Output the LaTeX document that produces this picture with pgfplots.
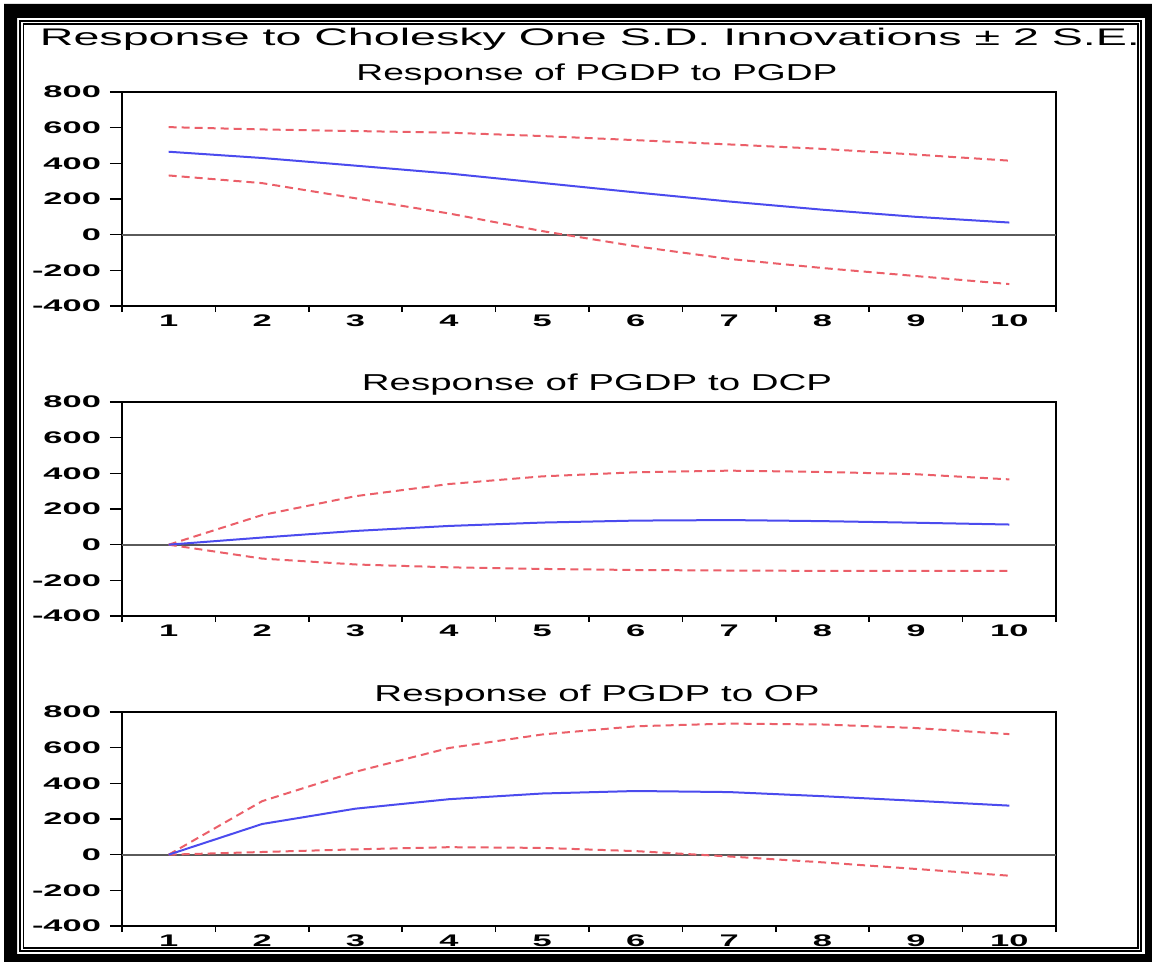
\documentclass[border=0pt]{standalone}
\usepackage{fontspec}
\setmainfont{Liberation Sans}
\newfontfamily\tickfont[FakeStretch=2.05]{Liberation Sans}
\usepackage{graphicx}
\usepackage{pgfplots}
\pgfplotsset{compat=1.18}
\definecolor{irfblue}{RGB}{75,75,238}
\definecolor{irfred}{RGB}{235,95,105}
\definecolor{zeroline}{RGB}{90,90,90}

\pgfplotsset{
  irf/.style={
    width=467pt, height=107pt, scale only axis,
    xmin=0.5, xmax=10.5, ymin=-400, ymax=800,
    xtick={1,...,10}, xticklabels={1,2,3,4,5,6,7,8,9,10},
    ytick={-400,-200,0,200,400,600,800},
    yticklabels={-400,-200,0,200,400,600,800},
    minor xtick={0.5,1.5,...,10.5},
    major x tick style={draw=none},
    tick align=outside, major tick length=6pt, minor tick length=3pt,
    xtick pos=bottom, ytick pos=left,
    axis line style={line width=1.2pt},
    tick style={line width=0.8pt, black},
    ticklabel style={font=\tickfont\bfseries\fontsize{8.4}{10}\selectfont},
    xticklabel style={yshift=5pt},
    yticklabel style={xshift=-1pt},
    clip=false,
  },
  ciband/.style={irfred, line width=1pt, dash pattern=on 4pt off 2.5pt},
  irfline/.style={irfblue, line width=1pt},
  zline/.style={zeroline, line width=1pt},
}
\newcommand{\wtxt}[3]{\resizebox{#1}{\height}{\fontsize{#2}{#2}\selectfont #3}}

\begin{document}
\begin{tikzpicture}
\useasboundingbox (0,0) rectangle (576pt,-481pt);
% outer frame
\fill[black, even odd rule] (2pt,-2pt) rectangle (576pt,-481pt) (8.5pt,-9pt) rectangle (572.5pt,-477pt);
\draw[line width=0.6pt] (10pt,-10.5pt) rectangle (570.5pt,-475.5pt);
\draw[line width=0.6pt] (11.7pt,-12pt) rectangle (569pt,-474pt);

\node[anchor=base, inner sep=0pt] at (295pt,-23pt) {\wtxt{550pt}{12}{Response to Cholesky One S.D. Innovations ± 2 S.E.}};

% PGDP to PGDP
\node[anchor=base, inner sep=0pt] at (298.5pt,-40.5pt) {\wtxt{240.5pt}{11.5}{Response of PGDP to PGDP}};
\begin{axis}[irf, at={(61pt,-46pt)}, anchor=north west]
\addplot[zline] coordinates {(0.5,0) (10.5,0)};
\addplot[ciband] coordinates {(1,603)(2,590)(3,581)(4,572)(5,553)(6,530)(7,506)(8,481)(9,449)(10,415)};
\addplot[ciband] coordinates {(1,332)(2,289)(3,204)(4,119)(5,20)(6,-65)(7,-136)(8,-187)(9,-232)(10,-277)};
\addplot[irfline] coordinates {(1,465)(2,430)(3,387)(4,343)(5,290)(6,237)(7,186)(8,140)(9,100)(10,68)};
\end{axis}

% PGDP to DCP
\node[anchor=base, inner sep=0pt] at (298.5pt,-195.5pt) {\wtxt{235pt}{11.5}{Response of PGDP to DCP}};
\begin{axis}[irf, at={(61pt,-201pt)}, anchor=north west]
\addplot[zline] coordinates {(0.5,0) (10.5,0)};
\addplot[ciband] coordinates {(1,0)(2,166)(3,272)(4,340)(5,383)(6,406)(7,415)(8,408)(9,395)(10,366)};
\addplot[ciband] coordinates {(1,0)(2,-78)(3,-111)(4,-127)(5,-136)(6,-142)(7,-145)(8,-147)(9,-147)(10,-147)};
\addplot[irfline] coordinates {(1,0)(2,40)(3,77)(4,105)(5,124)(6,135)(7,138)(8,132)(9,123)(10,113)};
\end{axis}

% PGDP to OP
\node[anchor=base, inner sep=0pt] at (298.5pt,-350.5pt) {\wtxt{222.5pt}{11.5}{Response of PGDP to OP}};
\begin{axis}[irf, at={(61pt,-356pt)}, anchor=north west]
\addplot[zline] coordinates {(0.5,0) (10.5,0)};
\addplot[ciband] coordinates {(1,0)(2,300)(3,465)(4,598)(5,674)(6,720)(7,735)(8,730)(9,710)(10,676)};
\addplot[ciband] coordinates {(1,0)(2,15)(3,30)(4,42)(5,38)(6,20)(7,-10)(8,-43)(9,-80)(10,-118)};
\addplot[irfline] coordinates {(1,0)(2,172)(3,258)(4,311)(5,343)(6,357)(7,351)(8,328)(9,302)(10,275)};
\end{axis}
\end{tikzpicture}
\end{document}
